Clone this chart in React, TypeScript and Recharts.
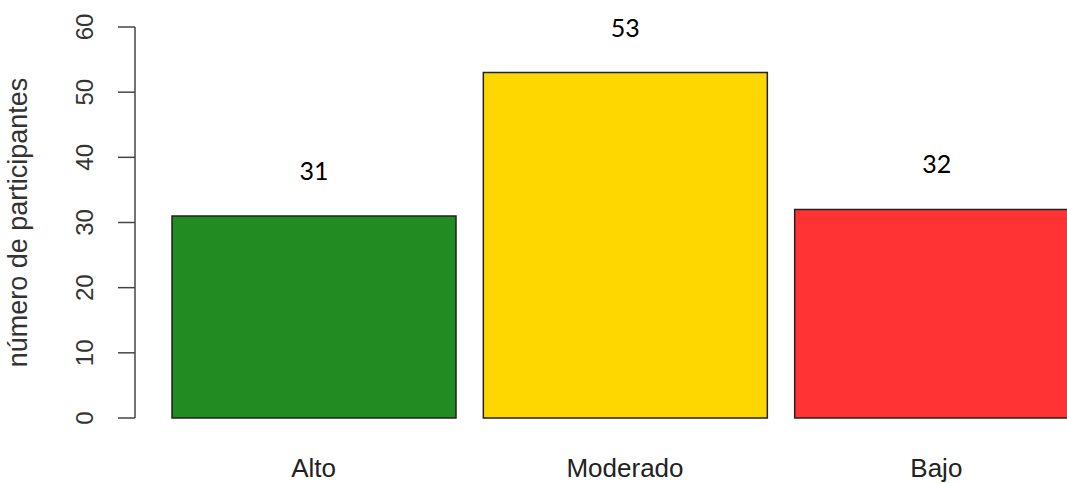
import React from "react";
import { BarChart, Bar, XAxis, YAxis, Cell, LabelList, Label } from "recharts";

const categories = ["Alto", "Moderado", "Bajo"];
const participantes = [31, 53, 32];
const barColors = ["#228B22", "#FFD700", "#FF3333"];
const yTicks = [0, 10, 20, 30, 40, 50, 60];

const data = categories.map((c, i) => ({ nivel: c, n: participantes[i] }));

const AXIS_FONT = "'Liberation Sans', Arial, sans-serif";

const YTick = ({ x, y, payload }: any) => (
  <text
    x={x - 25}
    y={y}
    transform={`rotate(-90, ${x - 25}, ${y})`}
    textAnchor="middle"
    fontSize={24}
    fontFamily={AXIS_FONT}
    fill="#333"
  >
    {payload.value}
  </text>
);

const XTick = ({ x, y, payload }: any) => (
  <text x={x} y={y + 59} textAnchor="middle" fontSize={26} fontFamily={AXIS_FONT} fill="#222">
    {payload.value}
  </text>
);

const YLabel = ({ viewBox }: any) => {
  const cy = viewBox.y + viewBox.height / 2;
  return (
    <text
      x={27}
      y={cy}
      transform={`rotate(-90, 27, ${cy})`}
      textAnchor="middle"
      fontSize={27}
      fontFamily={AXIS_FONT}
      fill="#333"
    >
      número de participantes
    </text>
  );
};

export default function App() {
  return (
    <div
      style={{
        position: "absolute", top: 0, left: 0,
        width: 1067, height: 484, overflow: "hidden", background: "#fff",
      }}
    >
      <BarChart width={1100} height={484} data={data} margin={{ top: 27, right: 8, left: 0, bottom: 0 }}>
        <XAxis
          dataKey="nivel"
          axisLine={false}
          tickLine={false}
          tickSize={0}
          tickMargin={0}
          height={66}
          padding={{ left: 23, right: 0 }}
          tick={<XTick />}
          interval={0}
        />
        <YAxis
          domain={[0, 60]}
          ticks={yTicks}
          width={135}
          tickSize={17}
          tickMargin={0}
          axisLine={{ stroke: "#444", strokeWidth: 1.5 }}
          tickLine={{ stroke: "#444", strokeWidth: 1.5 }}
          tick={<YTick />}
          interval={0}
        >
          <Label content={<YLabel />} />
        </YAxis>
        <Bar dataKey="n" barSize={284} stroke="#222" strokeWidth={1.5} isAnimationActive={false}>
          {data.map((d, i) => (
            <Cell key={d.nivel} fill={barColors[i]} />
          ))}
          <LabelList
            dataKey="n"
            position="top"
            offset={36}
            fontSize={25}
            fontFamily="Lato, 'Open Sans', sans-serif"
            fill="#000"
          />
        </Bar>
      </BarChart>
    </div>
  );
}
